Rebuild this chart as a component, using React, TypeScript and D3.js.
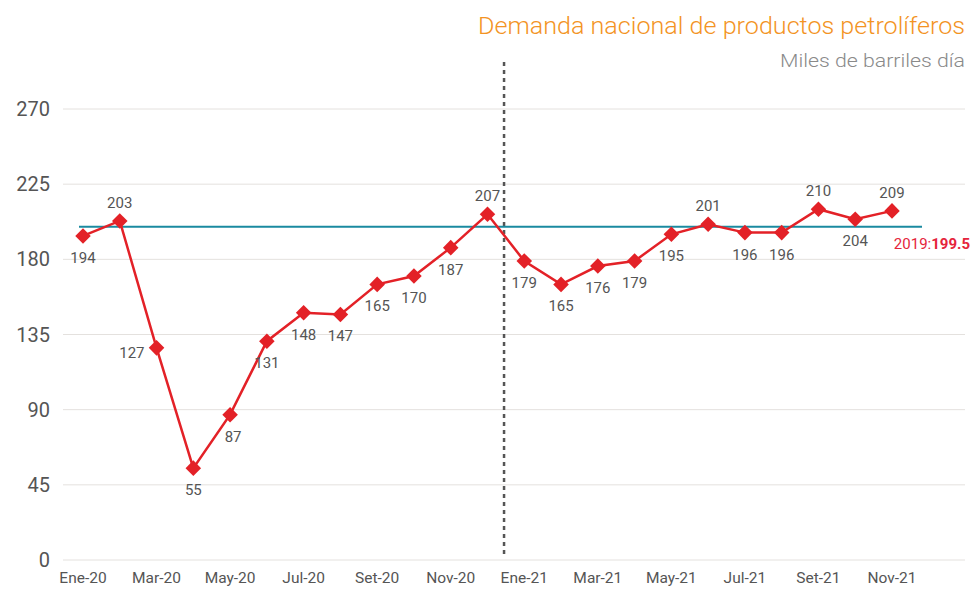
import React from 'react';
import * as d3 from 'd3';

// Demanda nacional de productos petrolíferos, miles de barriles día
const months = [
  'Ene-20', 'Feb-20', 'Mar-20', 'Abr-20', 'May-20', 'Jun-20', 'Jul-20', 'Ago-20', 'Set-20', 'Oct-20', 'Nov-20', 'Dic-20',
  'Ene-21', 'Feb-21', 'Mar-21', 'Abr-21', 'May-21', 'Jun-21', 'Jul-21', 'Ago-21', 'Set-21', 'Oct-21', 'Nov-21',
];
const demand = [194, 203, 127, 55, 87, 131, 148, 147, 165, 170, 187, 207, 179, 165, 176, 179, 195, 201, 196, 196, 210, 204, 209];
// where each value label sits relative to its point
const labelPos = ['below', 'above', 'left', 'below', 'belowRight', 'below', 'below', 'below', 'below', 'below', 'below', 'above',
  'below', 'below', 'below', 'below', 'below', 'above', 'below', 'below', 'above', 'below', 'above'];
const yTicks = [0, 45, 90, 135, 180, 225, 270];
const ref2019 = 199.5;
const splitAt = 11.45; // between Dic-20 and Ene-21

const W = 973;
const H = 589;

export default function App() {
  const x = d3.scalePoint<string>().domain(months).range([83, 892]);
  const y = d3.scaleLinear().domain([0, 270]).range([560, 109]);
  const step = x.step();

  const line = d3.line<number>()
    .x((_, i) => x(months[i]) as number)
    .y(d => y(d));

  const font = 'Roboto, "DejaVu Sans", sans-serif';
  const splitX = (x(months[0]) as number) + step * splitAt;

  return (
    <svg width={W} height={H} style={{ position: 'absolute', left: 0, top: 0, background: '#fff' }} fontFamily={font}>
      {/* title */}
      <text x={965} y={34} textAnchor="end" fill="#f39323" fontSize={24} fontWeight={300}
        textLength={487} lengthAdjust="spacingAndGlyphs">
        Demanda nacional de productos petrolíferos
      </text>
      <text x={965} y={67} textAnchor="end" fill="#8a8a8a" fontSize={19} fontWeight={300}
        textLength={185} lengthAdjust="spacingAndGlyphs">
        Miles de barriles día
      </text>

      {/* grid + y axis */}
      {yTicks.map(t => (
        <g key={t}>
          <line x1={63} x2={965} y1={y(t)} y2={y(t)} stroke="#e4e1de" strokeWidth={1} />
          <text x={50} y={y(t) + 7} textAnchor="end" fill="#555" fontSize={20}>{t}</text>
        </g>
      ))}

      {/* x axis labels every other month */}
      {months.map((m, i) => i % 2 === 0 ? (
        <text key={m} x={x(m) as number} y={583} textAnchor="middle" fill="#555" fontSize={15.5}>{m}</text>
      ) : null)}

      {/* divider */}
      <line x1={splitX} x2={splitX} y1={62} y2={555} stroke="#555" strokeWidth={2.5} strokeDasharray="4,4" />

      {/* 2019 reference */}
      <line x1={79} x2={922} y1={y(ref2019)} y2={y(ref2019)} stroke="#1a8aa0" strokeWidth={2} />
      <text x={970} y={y(ref2019) + 22} textAnchor="end" fontSize={15} fill="#e5243b">
        2019:<tspan fontWeight={700}>{ref2019}</tspan>
      </text>

      {/* series */}
      <path d={line(demand) ?? ''} fill="none" stroke="#e32127" strokeWidth={2.5} />
      {demand.map((v, i) => {
        const cx = x(months[i]) as number;
        const cy = y(v);
        return (
          <rect key={i} x={cx - 5.5} y={cy - 5.5} width={11} height={11} fill="#e32127"
            transform={`rotate(45 ${cx} ${cy})`} />
        );
      })}
      {demand.map((v, i) => {
        const cx = x(months[i]) as number;
        const cy = y(v);
        const p = labelPos[i];
        let tx = cx, ty = cy + 27, anchor: 'middle' | 'end' = 'middle';
        if (p === 'above') ty = cy - 13;
        if (p === 'left') { tx = cx - 12; ty = cy + 10; anchor = 'end'; }
        if (p === 'belowRight') { tx = cx + 3; }
        return (
          <text key={'l' + i} x={tx} y={ty} textAnchor={anchor} fill="#555" fontSize={15}>{v}</text>
        );
      })}
    </svg>
  );
}
